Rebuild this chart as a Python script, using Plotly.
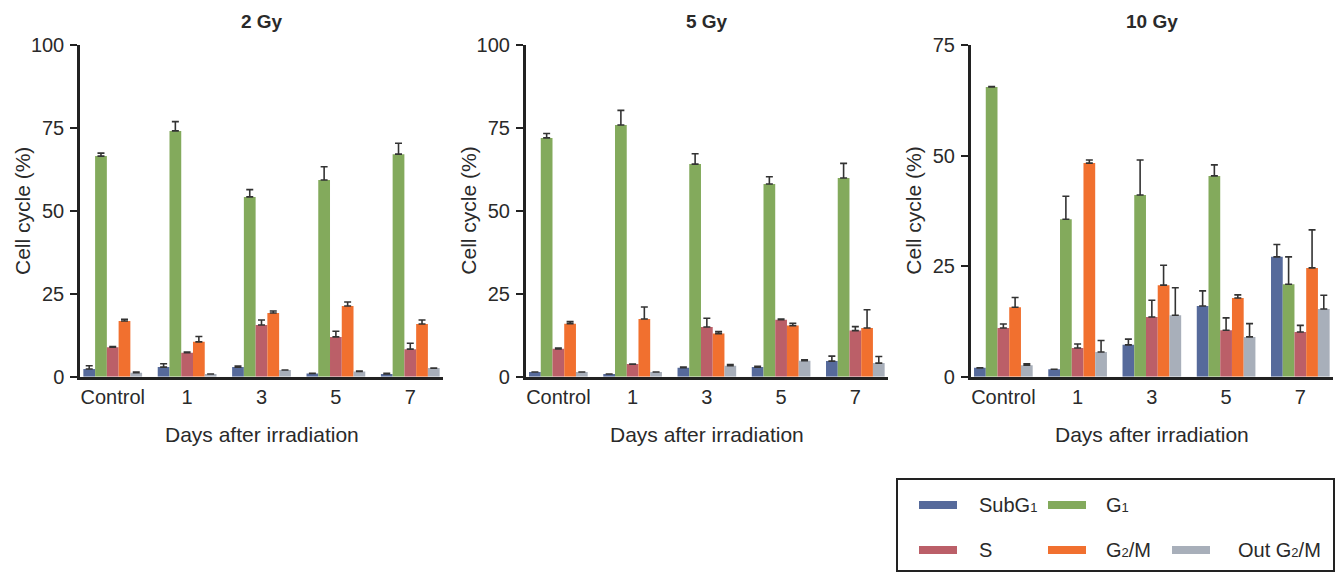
import plotly.graph_objects as go

# ---- data -------------------------------------------------------------
days = ["Control", "1", "3", "5", "7"]
SUB = '<span style="font-size:13px">{}</span>'
phase_names = ["SubG" + SUB.format(1), "G" + SUB.format(1), "S",
               "G" + SUB.format(2) + "/M", "Out G" + SUB.format(2) + "/M"]
phase_colors = ["#566a9b", "#83aa5c", "#bb5f68", "#f1702f", "#a8afba"]
doses = ["2 Gy", "5 Gy", "10 Gy"]
y_max = [100, 100, 75]

# 2 Gy: mean and SD per phase (Control, day 1, 3, 5, 7)
gy2_subg1 = [2.3, 2.9, 2.9, 1.0, 0.8]
gy2_subg1_sd = [1.0, 1.0, 0.3, None, 0.2]
gy2_g1 = [66.5, 74.1, 54.2, 59.3, 67.1]
gy2_g1_sd = [0.9, 2.8, 2.2, 4.0, 3.3]
gy2_s = [8.9, 7.2, 15.6, 12.0, 8.3]
gy2_s_sd = [0.2, 0.2, 1.5, 1.7, 1.8]
gy2_g2m = [16.8, 10.5, 19.2, 21.3, 15.9]
gy2_g2m_sd = [0.5, 1.6, 0.6, 1.2, 1.2]
gy2_out = [1.2, 0.8, 2.0, 1.6, 2.6]
gy2_out_sd = [0.2, None, None, 0.1, None]

# 5 Gy
gy5_subg1 = [1.4, 0.8, 2.7, 2.9, 4.7]
gy5_subg1_sd = [None, None, 0.2, 0.2, 1.5]
gy5_g1 = [72.0, 75.9, 64.1, 58.1, 59.9]
gy5_g1_sd = [1.3, 4.4, 3.1, 2.2, 4.4]
gy5_s = [8.4, 3.8, 15.0, 17.2, 13.9]
gy5_s_sd = [0.2, None, 2.6, 0.2, 1.2]
gy5_g2m = [16.0, 17.4, 13.0, 15.4, 14.7]
gy5_g2m_sd = [0.6, 3.6, 0.6, 0.7, 5.5]
gy5_out = [1.4, 1.4, 3.3, 4.8, 4.1]
gy5_out_sd = [None, None, 0.4, 0.3, 2.0]

# 10 Gy
gy10_subg1 = [2.0, 1.7, 7.2, 16.0, 27.1]
gy10_subg1_sd = [None, None, 1.3, 3.4, 2.8]
gy10_g1 = [65.5, 35.6, 41.1, 45.4, 20.9]
gy10_g1_sd = [0.1, 5.2, 7.9, 2.5, 6.2]
gy10_s = [11.0, 6.5, 13.5, 10.5, 10.1]
gy10_s_sd = [0.9, 0.9, 3.8, 2.8, 1.5]
gy10_g2m = [15.7, 48.3, 20.7, 17.8, 24.6]
gy10_g2m_sd = [2.2, 0.7, 4.5, 0.7, 8.6]
gy10_out = [2.6, 5.6, 13.9, 9.0, 15.3]
gy10_out_sd = [0.3, 2.6, 6.2, 3.0, 3.1]

panels = [
    [(gy2_subg1, gy2_subg1_sd), (gy2_g1, gy2_g1_sd), (gy2_s, gy2_s_sd),
     (gy2_g2m, gy2_g2m_sd), (gy2_out, gy2_out_sd)],
    [(gy5_subg1, gy5_subg1_sd), (gy5_g1, gy5_g1_sd), (gy5_s, gy5_s_sd),
     (gy5_g2m, gy5_g2m_sd), (gy5_out, gy5_out_sd)],
    [(gy10_subg1, gy10_subg1_sd), (gy10_g1, gy10_g1_sd), (gy10_s, gy10_s_sd),
     (gy10_g2m, gy10_g2m_sd), (gy10_out, gy10_out_sd)],
]

# ---- layout geometry (pixels) ----------------------------------------
W, H = 1340, 573
panel_x = [(80, 443), (525.7, 888), (970.7, 1333)]
y_bottom_px, y_top_px = 376.7, 45

FONT = "Liberation Sans, Arial, sans-serif"
TXT = "#2a2a2a"
AX = "#222222"

fig = go.Figure()

for p, series in enumerate(panels):
    sfx = "" if p == 0 else str(p + 1)
    for i, (vals, sd) in enumerate(series):
        fig.add_trace(go.Bar(
            x=list(range(len(days))), y=vals,
            name=phase_names[i],
            marker=dict(color=phase_colors[i], line=dict(width=0)),
            error_y=dict(type="data", array=sd, arrayminus=[0] * len(days),
                         symmetric=False, color="#333333", thickness=1.6, width=3.5),
            xaxis="x" + sfx, yaxis="y" + sfx, showlegend=False,
        ))

    x0, x1 = panel_x[p]
    xdom = [x0 / W, x1 / W]
    ydom = [1 - y_bottom_px / H, 1 - y_top_px / H]
    step = 25
    fig.update_layout(**{
        "xaxis" + sfx: dict(
            domain=xdom, anchor="y" + sfx, range=[-0.44, 4.44],
            tickvals=list(range(len(days))), ticktext=days,
            showline=True, linecolor=AX, linewidth=2.5, ticks="",
            showgrid=False, zeroline=False, ticklabelstandoff=1, automargin=False,
            tickfont=dict(family=FONT, size=20, color=TXT),
        ),
        "yaxis" + sfx: dict(
            domain=ydom, anchor="x" + sfx, range=[0, y_max[p]],
            tickvals=list(range(0, y_max[p] + 1, step)),
            showline=True, linecolor=AX, linewidth=2.5, ticks="outside",
            ticklen=7, tickwidth=2, tickcolor=AX, showgrid=False, zeroline=False,
            ticklabelstandoff=2, automargin=False,
            tickfont=dict(family=FONT, size=20, color=TXT),
        ),
    })

    cx = (x0 + x1) / 2 / W
    fig.add_annotation(text=doses[p], x=cx, y=1 - 22 / H, xref="paper", yref="paper",
                       showarrow=False, xanchor="center", yanchor="middle",
                       font=dict(family=FONT, size=19, color=TXT, weight="bold"))
    fig.add_annotation(text="Days after irradiation", x=cx, y=1 - 434 / H,
                       xref="paper", yref="paper", showarrow=False,
                       xanchor="center", yanchor="middle",
                       font=dict(family=FONT, size=21, color=TXT))
    fig.add_annotation(text="Cell cycle (%)", x=(x0 - 58) / W, y=1 - 211 / H,
                       xref="paper", yref="paper", showarrow=False, textangle=-90,
                       xanchor="center", yanchor="middle",
                       font=dict(family=FONT, size=21, color=TXT))

# ---- legend box -------------------------------------------------------
fig.add_shape(type="rect", xref="paper", yref="paper",
              x0=897 / W, x1=1334 / W, y0=1 - 571 / H, y1=1 - 479 / H,
              line=dict(color=AX, width=2), fillcolor="rgba(0,0,0,0)")

legend_slots = [  # (swatch left px, text left px, row centre px)
    (919, 977, 505), (1048, 1104, 505),
    (919, 977, 550), (1048, 1104, 550), (1172, 1236, 550),
]
for i, (sx, tx, ry) in enumerate(legend_slots):
    fig.add_shape(type="rect", xref="paper", yref="paper",
                  x0=sx / W, x1=(sx + 38) / W, y0=1 - (ry + 4) / H, y1=1 - (ry - 4) / H,
                  line=dict(width=0), fillcolor=phase_colors[i])
    fig.add_annotation(text=phase_names[i], x=tx / W, y=1 - ry / H,
                       xref="paper", yref="paper", showarrow=False,
                       xanchor="left", yanchor="middle",
                       font=dict(family=FONT, size=20, color=TXT))

fig.update_layout(
    width=W, height=H, margin=dict(l=0, r=0, t=0, b=0, autoexpand=False),
    paper_bgcolor="white", plot_bgcolor="white",
    barmode="group", bargap=0.21, bargroupgap=0,
    showlegend=False,
)

fig.write_html("out.html")
